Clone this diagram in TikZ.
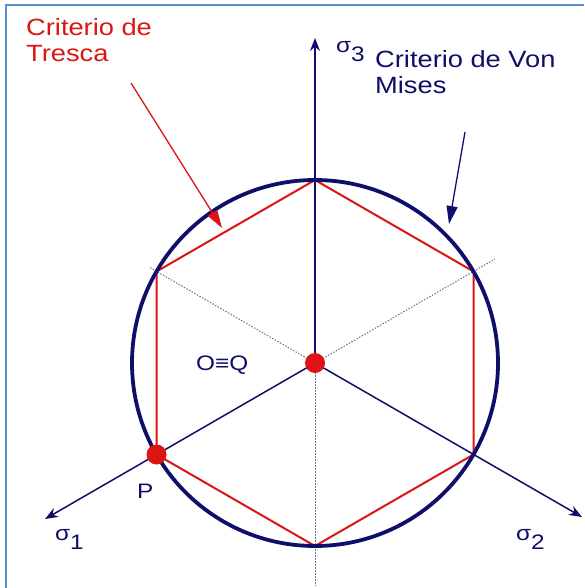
\documentclass[tikz,border=0pt]{standalone}
\usepackage{fontspec}
\setmainfont{Liberation Sans}
\usetikzlibrary{arrows.meta}
\definecolor{navy}{RGB}{15,15,105}
\definecolor{tred}{RGB}{220,20,20}
\definecolor{frameblue}{RGB}{90,140,210}
\definecolor{dotgray}{RGB}{110,110,160}
\newcommand{\widetext}[1]{\scalebox{1.16}[1]{#1}}
\begin{document}
\begin{tikzpicture}[x=1pt,y=-1pt,
  axis/.style={draw=navy,line width=1.5pt,-{Stealth[length=13pt,width=10pt]}},
  guide/.style={draw=dotgray,line width=1pt,dash pattern=on 1.5pt off 1.5pt},
  hexline/.style={draw=tred,line width=2pt,line join=miter},
  mises/.style={draw=navy,line width=3.8pt},
  dotmark/.style={circle,fill=tred,inner sep=0pt,minimum size=20pt},
  lbl/.style={inner sep=0pt,anchor=base west,font=\fontsize{23.5}{26}\selectfont},
  small/.style={inner sep=0pt,anchor=base west,font=\fontsize{21}{24}\selectfont,text=navy},
  callout/.style={line width=1.3pt,-{Triangle[length=18pt,width=11pt]}}]
\useasboundingbox (0,0) rectangle (584,588);
% frame
\draw[frameblue,line width=2pt] (6,588) -- (6,5) -- (584,5);
% key points
\coordinate (O) at (315,363);
\coordinate (t) at (315,180);
\coordinate (b) at (315,546);
\coordinate (ul) at (156.5,271.5);
\coordinate (ur) at (473.5,271.5);
\coordinate (ll) at (156.5,454.5);
\coordinate (lr) at (473.5,454.5);
\coordinate (s3tip) at (315,38);
\coordinate (s1tip) at (45,519);
\coordinate (s2tip) at (582,517);
\coordinate (dd) at (315,586);
\coordinate (dur) at (495,259);
\coordinate (dul) at (149,267);
% guides
\draw[guide] (O) -- (dd);
\draw[guide] (O) -- (dur);
\draw[guide] (O) -- (dul);
% axes
\draw[axis] (O) -- (s3tip);
\draw[axis] (O) -- (s1tip);
\draw[axis] (O) -- (s2tip);
% Tresca hexagon
\draw[hexline] (t) -- (ur) -- (lr) -- (b) -- (ll) -- (ul) -- cycle;
% Von Mises circle
\draw[mises] (O) circle[radius=183];
% points
\node[dotmark] (Q) at (O) {};
\node[dotmark] (P) at (ll) {};
% labels
\node[lbl,text=tred] (tresca) at (26,36) {\widetext{\begin{tabular}[t]{@{}l@{}}Criterio de\\Tresca\end{tabular}}};
\node[lbl,text=navy] (vonmises) at (375,68) {\widetext{\begin{tabular}[t]{@{}l@{}}Criterio de Von\\Mises\end{tabular}}};
\node[small] (s3) at (336,53) {\widetext{σ\raisebox{-9pt}{3}}};
\node[small] (s1) at (55,540) {\widetext{σ\raisebox{-9pt}{1}}};
\node[small] (s2) at (516,540) {\widetext{σ\raisebox{-9pt}{2}}};
\node[small] (plabel) at (137,498) {\widetext{P}};
\node[small] (oq) at (196,370) {\widetext{O≡Q}};
% callouts
\coordinate (rtail) at (131,83);
\coordinate (rhead) at (222,228);
\coordinate (btail) at (465,132);
\coordinate (bhead) at (449,224);
\draw[callout,tred] (rtail) -- (rhead);
\draw[callout,navy] (btail) -- (bhead);
\end{tikzpicture}
\end{document}
